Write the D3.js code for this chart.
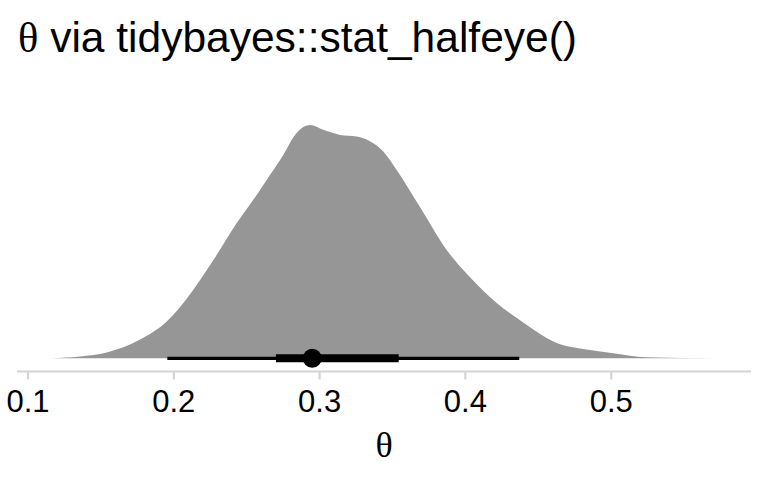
<!DOCTYPE html>
<html>
<head>
<meta charset="utf-8">
<script src="https://cdn.jsdelivr.net/npm/d3@7"></script>
<style>
  html, body { margin: 0; padding: 0; background: #fff; }
  svg { display: block; }
</style>
</head>
<body>
<svg id="chart" width="768" height="480"></svg>
<script>
// ---- data ----
const thetaGrid = [0.1166, 0.136, 0.1543, 0.1772, 0.1955, 0.2092, 0.2274, 0.2435, 0.2595, 0.2663,
                   0.2754, 0.2835, 0.2938, 0.3029, 0.3143, 0.3258, 0.3349, 0.3440, 0.3532, 0.3692,
                   0.3875, 0.4035, 0.4220, 0.4378, 0.4675, 0.4789, 0.5018, 0.5247, 0.5722];
const densityVals = [0, 0.05, 0.17, 0.55, 1.08, 1.75, 2.88, 3.97, 4.94, 5.38,
                     5.97, 6.56, 6.85, 6.71, 6.56, 6.51, 6.37, 6.07, 5.53, 4.44,
                     3.18, 2.38, 1.62, 1.12, 0.38, 0.29, 0.15, 0.03, 0];
const interval95 = [0.1959, 0.4373];
const interval66 = [0.2704, 0.3546];
const pointEstimate = [0.2953];
const xTicks = [0.1, 0.2, 0.3, 0.4, 0.5];
const titleText = "θ via tidybayes::stat_halfeye()";
const xLabel = "θ";

// ---- layout ----
const svg = d3.select("#chart");
const panelLeft = 17, panelRight = 751;
const baseY = 358.3, peakY = 125;

const x = d3.scaleLinear().domain([0.1, 0.5]).range([27.5, 610.7]);
const y = d3.scaleLinear().domain([0, d3.max(densityVals)]).range([baseY, peakY]);

const dens = thetaGrid.map((t, i) => ({t, d: densityVals[i]}));

// density area
svg.append("path")
  .datum(dens)
  .attr("fill", "#969696")
  .attr("d", d3.area()
      .x(p => x(p.t))
      .y0(baseY)
      .y1(p => y(p.d))
      .curve(d3.curveMonotoneX));

// axis
const axisY = 371.5;
svg.append("line")
  .attr("x1", panelLeft).attr("x2", panelRight)
  .attr("y1", axisY).attr("y2", axisY)
  .attr("stroke", "#d4d4d4").attr("stroke-width", 2.2);

const axis = d3.axisBottom(x).tickValues(xTicks).tickSize(8).tickPadding(10)
  .tickFormat(d3.format(".1f"));
const gAxis = svg.append("g").attr("transform", `translate(0,${axisY})`).call(axis);
gAxis.select(".domain").remove();
gAxis.selectAll(".tick line").attr("stroke", "#d4d4d4").attr("stroke-width", 2.2);
gAxis.selectAll(".tick text")
  .attr("fill", "#000")
  .attr("font-family", "'Liberation Sans', Arial, Helvetica, sans-serif")
  .attr("font-size", 31);

// interval lines
svg.append("line")
  .attr("x1", x(interval95[0])).attr("x2", x(interval95[1]))
  .attr("y1", baseY).attr("y2", baseY)
  .attr("stroke", "#000").attr("stroke-width", 3.3);
svg.append("line")
  .attr("x1", x(interval66[0])).attr("x2", x(interval66[1]))
  .attr("y1", baseY).attr("y2", baseY)
  .attr("stroke", "#000").attr("stroke-width", 8);
svg.selectAll("circle.pt").data(pointEstimate).enter().append("circle")
  .attr("class", "pt")
  .attr("cx", d => x(d)).attr("cy", baseY).attr("r", 9.5)
  .attr("fill", "#000");

// title
const title = svg.append("text")
  .attr("x", 18).attr("y", 52)
  .attr("font-family", "'Liberation Sans', Arial, Helvetica, sans-serif")
  .attr("font-size", 42.5)
  .attr("fill", "#000");
title.append("tspan").attr("font-family", "'Liberation Serif', 'Times New Roman', serif").text(titleText.slice(0, 1));
title.append("tspan").text(titleText.slice(1));

// x axis title
svg.append("text")
  .attr("x", (panelLeft + panelRight) / 2).attr("y", 457)
  .attr("text-anchor", "middle")
  .attr("font-family", "'Liberation Serif', 'Times New Roman', serif")
  .attr("font-size", 36)
  .attr("fill", "#000")
  .text(xLabel);
</script>
</body>
</html>
